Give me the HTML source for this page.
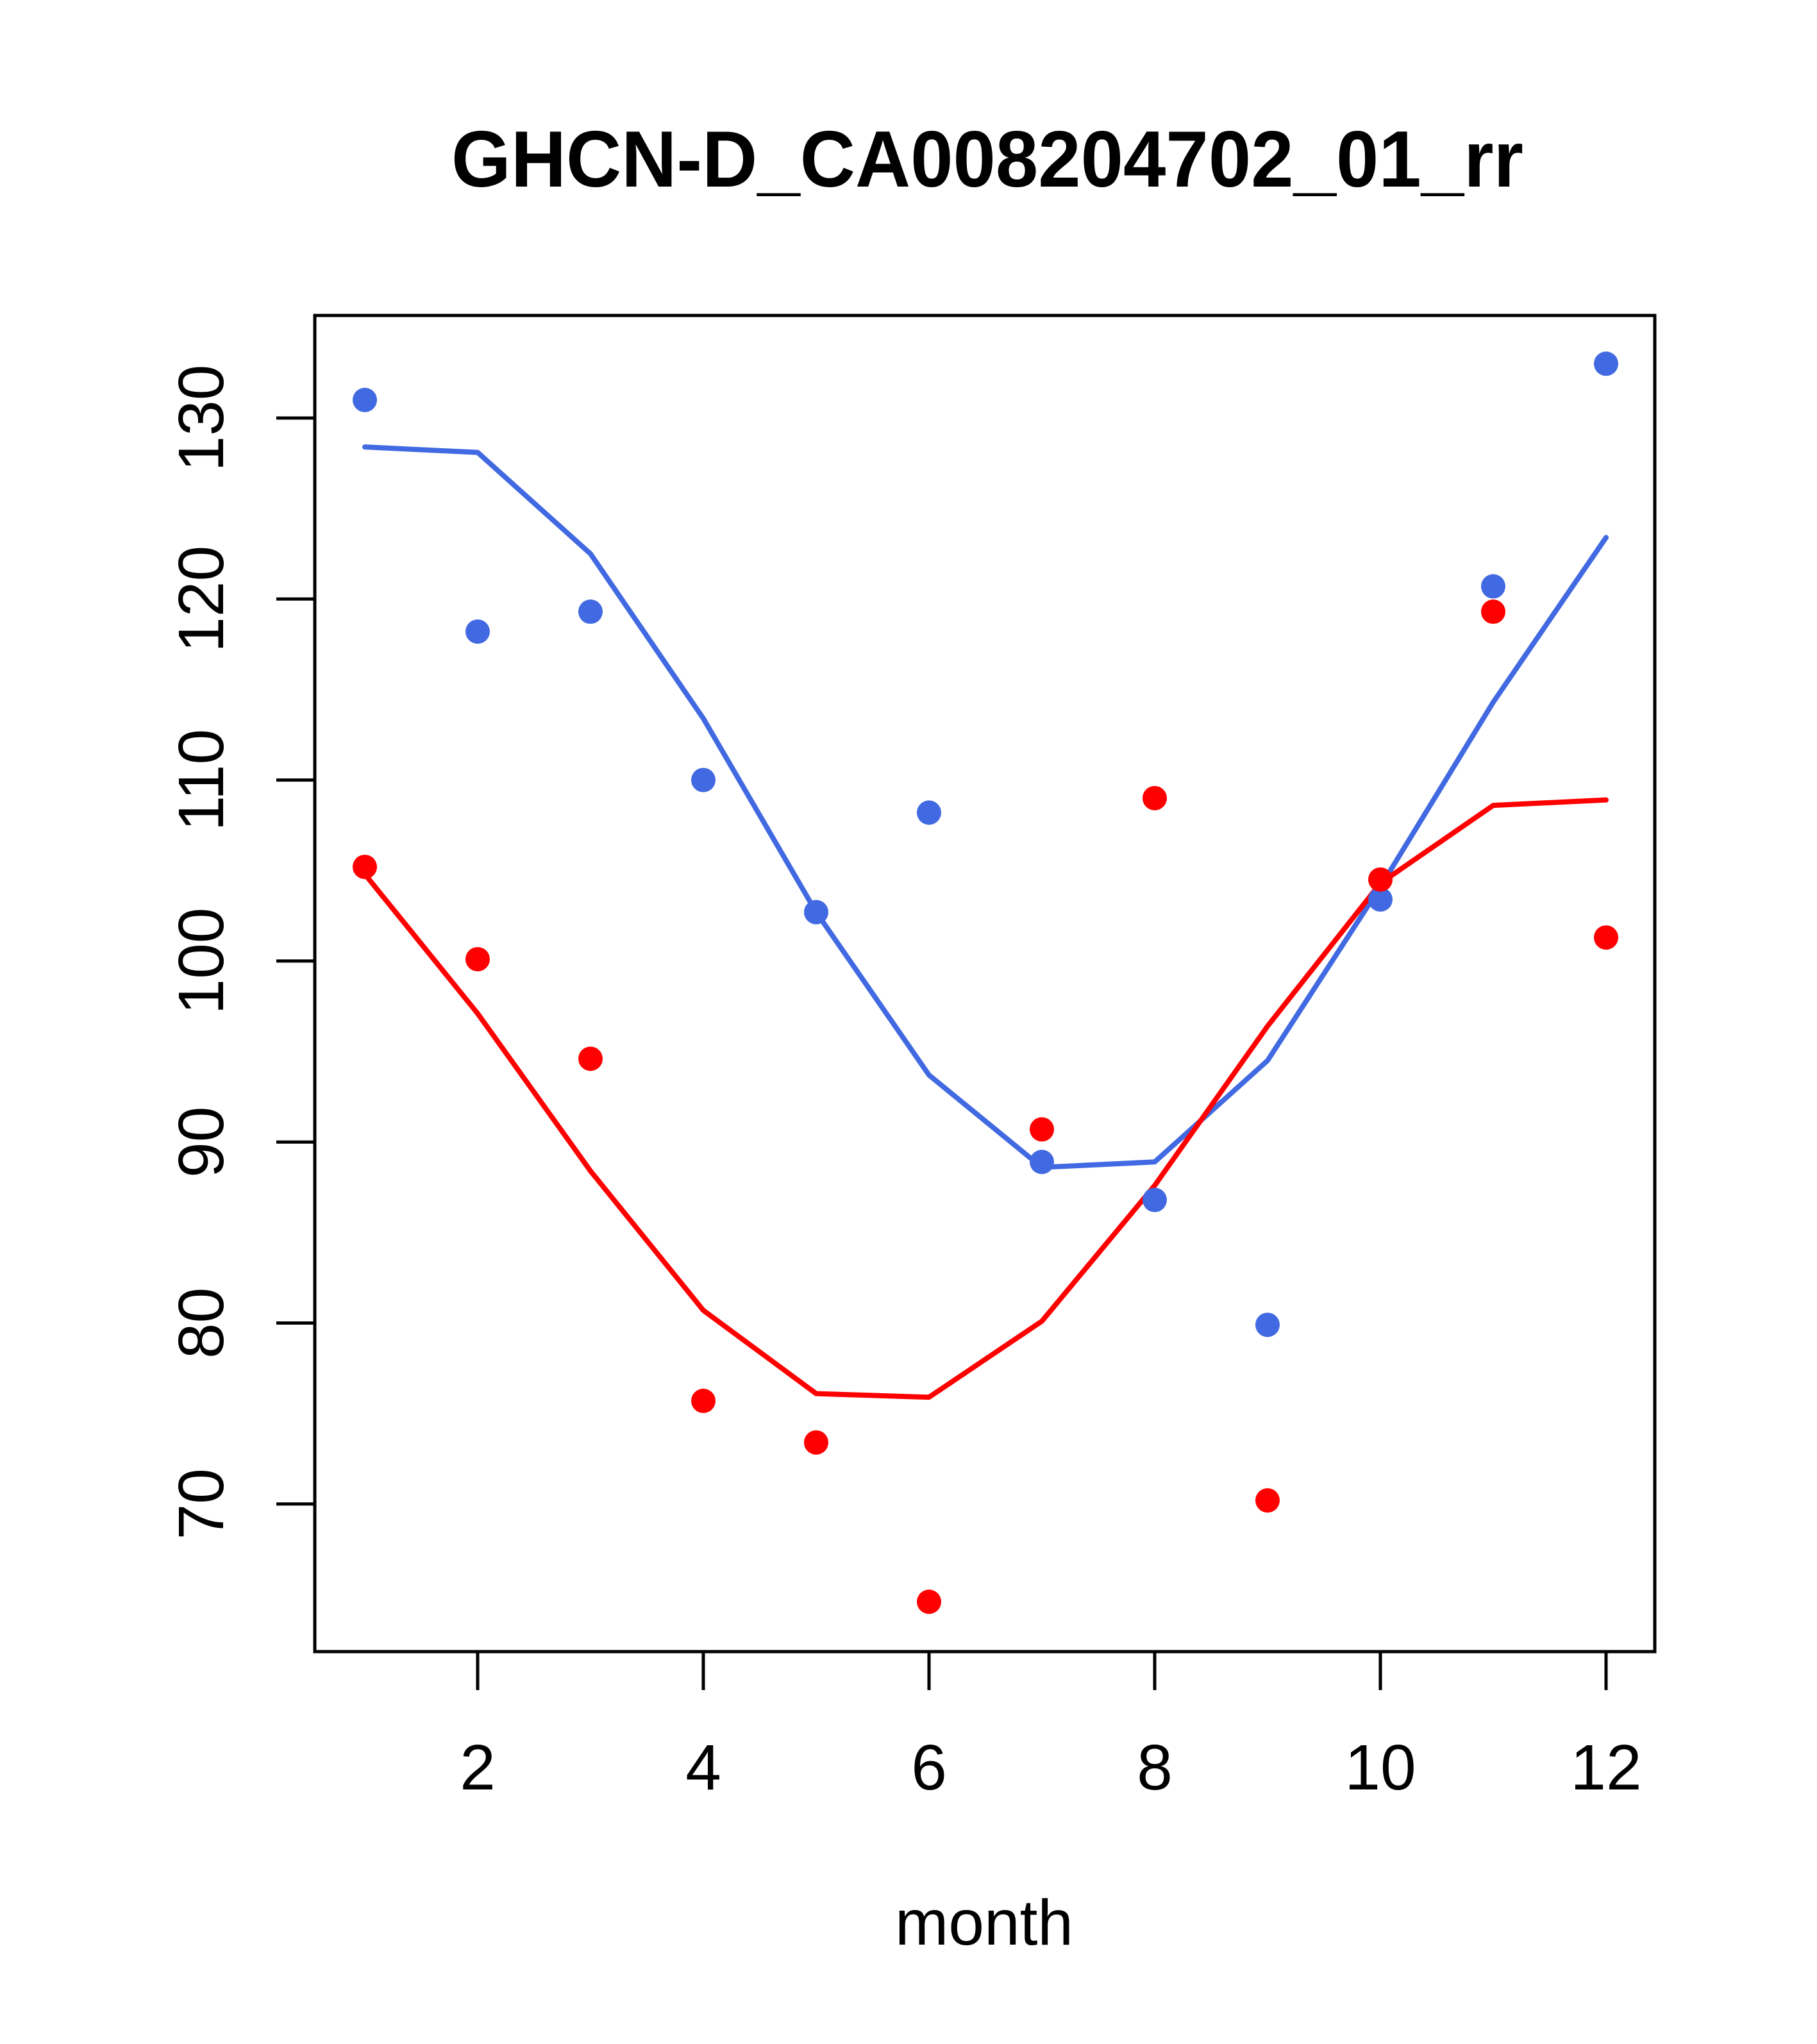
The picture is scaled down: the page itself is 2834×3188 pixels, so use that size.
<!DOCTYPE html>
<html><head><meta charset="utf-8"><style>body{margin:0;background:#fff}svg{display:block}</style></head>
<body>
<svg id="chart" width="2834" height="3188" viewBox="0 0 2834 3188" xmlns="http://www.w3.org/2000/svg" font-family="Liberation Sans, sans-serif">
<rect width="2834" height="3188" fill="#fff"/>
<text x="704" y="291" font-size="124" font-weight="bold" textLength="1672" lengthAdjust="spacingAndGlyphs">GHCN-D_CA008204702_01_rr</text>
<text x="1535" y="3033" font-size="100" text-anchor="middle">month</text>
<rect x="491" y="492" width="2090" height="2084" fill="none" stroke="#000" stroke-width="5"/>
<g id="xaxis"></g>
<g id="yaxis"></g>
<g id="series"></g>
</svg>
<script>
const months=[1,2,3,4,5,6,7,8,9,10,11,12];
const bluePoints=[131.0,118.2,119.3,110.0,102.7,108.2,88.9,86.8,79.9,103.4,120.7,133.0];
const blueLine=[128.4,128.1,122.5,113.4,102.7,93.7,88.6,88.9,94.5,104.1,114.3,123.4];
const redPoints=[105.2,100.1,94.6,75.7,73.4,64.6,90.7,109.0,70.2,104.5,119.3,101.3];
const redLine=[104.8,97.1,88.4,80.7,76.1,75.9,80.1,87.6,96.4,104.3,108.6,108.9];
const xTicks=[2,4,6,8,10,12];
const yTicks=[70,80,90,100,110,120,130];
const NS='http://www.w3.org/2000/svg';
function X(m){return 569+(m-1)*176;}
function Y(v){return 652+(130-v)*28.23;}
function mk(tag,attrs,parent){const e=document.createElementNS(NS,tag);for(const k in attrs)e.setAttribute(k,attrs[k]);parent.appendChild(e);return e;}
const xa=document.getElementById('xaxis'),ya=document.getElementById('yaxis'),sg=document.getElementById('series');
xTicks.forEach(t=>{
  const l=mk('line',{x1:X(t),x2:X(t),y1:2576,y2:2636,stroke:'#000','stroke-width':5},xa);
  
  
  const tx=mk('text',{x:X(t),y:2791,'font-size':100,'text-anchor':'middle'},xa);
  tx.textContent=t;
  
  
});
yTicks.forEach(t=>{
  const l=mk('line',{x1:431,x2:491,y1:Y(t),y2:Y(t),stroke:'#000','stroke-width':5},ya);
  
  
  const tx=mk('text',{x:348,y:Y(t),'font-size':100,'text-anchor':'middle',transform:'rotate(-90 348 '+Y(t)+')'},ya);
  tx.textContent=t;
  
  
});
function line(vals,color,name){
  const p=mk('polyline',{points:vals.map((v,i)=>X(months[i])+','+Y(v)).join(' '),fill:'none',stroke:color,'stroke-width':8,'stroke-linejoin':'round','stroke-linecap':'round'},sg);
  
  
}
function pts(vals,color,name){
  vals.forEach((v,i)=>{
    const c=mk('circle',{cx:X(months[i]),cy:Y(v),r:19,fill:color},sg);
    
    
  });
}
line(blueLine,'#4169e1','blue-smooth-line');
line(redLine,'#ff0000','red-smooth-line');
pts(bluePoints,'#4169e1','blue-point');
pts(redPoints,'#ff0000','red-point');
</script>
</body></html>
